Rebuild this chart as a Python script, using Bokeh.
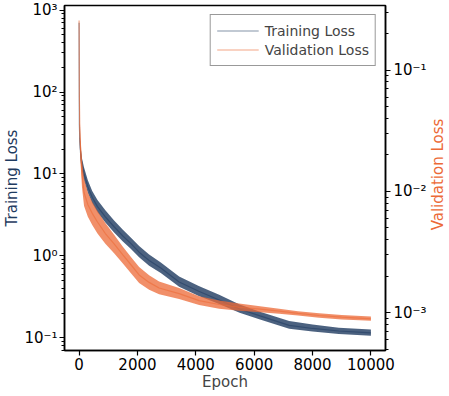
import math
from bokeh.plotting import figure
from bokeh.models import (Range1d, LogScale, LogAxis, FixedTicker, CustomJSTickFormatter,
                          Legend, LegendItem, ColumnDataSource, Label)
from bokeh.embed import file_html
from bokeh.resources import INLINE

# ---------------- data ----------------
epochs_train = [0, 10, 25, 50, 100, 170, 300, 450, 630, 900, 1200, 1500, 1770, 2057,
                2400, 2800, 3428, 4100, 4800, 5500, 6200, 7200, 8000, 8900, 10000]
train_mid = [700, 40, 25, 18, 13, 10, 7.0, 5.2, 4.0, 3.0, 2.27, 1.75, 1.42, 1.11,
             0.88, 0.71, 0.48, 0.37, 0.29, 0.225, 0.185, 0.142, 0.13, 0.121, 0.115]
train_lo = [690, 38, 21, 14.5, 10.8, 8.4, 5.9, 4.4, 3.4, 2.55, 1.93, 1.50, 1.22, 0.96,
            0.76, 0.62, 0.42, 0.325, 0.258, 0.202, 0.167, 0.129, 0.119, 0.111, 0.106]
train_hi = [710, 42, 29, 22, 15.5, 12, 8.4, 6.2, 4.8, 3.6, 2.70, 2.08, 1.68, 1.32,
            1.04, 0.83, 0.56, 0.43, 0.335, 0.255, 0.208, 0.160, 0.145, 0.133, 0.126]

epochs_val = [0, 10, 25, 50, 100, 170, 300, 450, 630, 900, 1200, 1500, 1770, 2057,
              2400, 2742, 3428, 4114, 4800, 5485, 6200, 6857, 7500, 8228, 9000, 10000]
val_mid = [0.257, 0.06, 0.032, 0.022, 0.014, 0.0098, 0.0078, 0.0066, 0.0056, 0.0045,
           0.0037, 0.0030, 0.0025, 0.00205, 0.00178, 0.00160, 0.00144, 0.00126, 0.00117,
           0.00111, 0.00107, 0.00103, 0.00099, 0.00095, 0.00092, 0.00089]
val_lo = [0.25, 0.055, 0.026, 0.017, 0.0108, 0.0076, 0.0062, 0.0053, 0.0045, 0.0037,
          0.0031, 0.00255, 0.00213, 0.00176, 0.00155, 0.00142, 0.00130, 0.00116, 0.00108,
          0.00104, 0.00101, 0.00098, 0.00095, 0.00091, 0.00088, 0.00086]
val_hi = [0.265, 0.065, 0.040, 0.028, 0.018, 0.0128, 0.0098, 0.0082, 0.0069, 0.0055,
          0.0044, 0.0035, 0.0029, 0.00238, 0.00204, 0.00181, 0.00160, 0.00137, 0.00126,
          0.00119, 0.00113, 0.00108, 0.00103, 0.00099, 0.00096, 0.00093]

x_ticks = [0, 2000, 4000, 6000, 8000, 10000]
left_ticks = [0.1, 1, 10, 100, 1000]
right_ticks = [0.001, 0.01, 0.1]

BLUE = "#1f3b60"
ORANGE = "#ec6a37"
FONT = "DejaVu Sans"

# ---------------- figure ----------------
p = figure(frame_width=321, frame_height=345, output_backend="svg", toolbar_location=None,
           x_range=Range1d(-500, 10500),
           y_range=Range1d(10 ** -1.155, 10 ** 3.057), y_axis_type="log",
           min_border_left=10, min_border_right=60, min_border_top=5, min_border_bottom=10)
p.extra_y_ranges = {"val": Range1d(10 ** -3.311, 10 ** -0.467)}
p.extra_y_scales = {"val": LogScale()}

p.grid.visible = False
p.outline_line_color = "black"
p.outline_line_width = 1.5
p.background_fill_color = "white"
p.border_fill_color = "white"


def minor(ticks):
    out = []
    for t in [ticks[0] / 10] + ticks:
        out += [t * k for k in range(2, 10)]
    return out


sup_code = """
const sup = {"-":"\u207b","0":"\u2070","1":"\u00b9","2":"\u00b2","3":"\u00b3","4":"\u2074",
             "5":"\u2075","6":"\u2076","7":"\u2077","8":"\u2078","9":"\u2079"};
const e = Math.round(Math.log10(tick));
return "10" + String(e).split("").map(c => sup[c]).join("");
"""


def style_axis(ax):
    ax.axis_line_color = "black"
    ax.axis_line_width = 1.5
    ax.major_tick_line_color = "black"
    ax.major_tick_line_width = 1.2
    ax.minor_tick_line_color = "black"
    ax.minor_tick_line_width = 1
    ax.major_tick_in = 0
    ax.major_tick_out = 5
    ax.minor_tick_in = 0
    ax.minor_tick_out = 3
    ax.major_label_text_font = FONT
    ax.major_label_text_font_size = "15px"
    ax.major_label_text_color = "black"
    ax.axis_label_text_font = FONT
    ax.axis_label_text_font_size = "15px"
    ax.axis_label_text_font_style = "normal"
    ax.major_label_standoff = 2


# x axis
xa = p.xaxis[0]
style_axis(xa)
xa.ticker = FixedTicker(ticks=x_ticks)
xa.minor_tick_line_color = None
xa.axis_label = "Epoch"
xa.axis_label_standoff = 0
xa.major_label_standoff = 2

# left axis
ya = p.yaxis[0]
style_axis(ya)
ya.ticker = FixedTicker(ticks=left_ticks, minor_ticks=minor(left_ticks))
ya.formatter = CustomJSTickFormatter(code=sup_code)
ya.axis_label = "Training Loss"
ya.axis_label_text_color = BLUE
ya.axis_label_standoff = 0

# right axis (its title is drawn as a label reading bottom-to-top)
ra = LogAxis(y_range_name="val")
style_axis(ra)
ra.ticker = FixedTicker(ticks=right_ticks, minor_ticks=minor(right_ticks))
ra.formatter = CustomJSTickFormatter(code=sup_code)
ra.major_label_standoff = 3
p.add_layout(ra, "right")

right_title = Label(x=8, y=176, x_units="screen", y_units="screen",
                    text="Validation Loss", angle=math.pi / 2,
                    text_align="center", text_baseline="middle",
                    text_font=FONT, text_font_size="15px", text_color=ORANGE)
p.add_layout(right_title, "right")

# ---------------- glyphs ----------------
src_t = ColumnDataSource(dict(x=epochs_train, mid=train_mid, lo=train_lo, hi=train_hi))
src_v = ColumnDataSource(dict(x=epochs_val, mid=val_mid, lo=val_lo, hi=val_hi))

p.varea(x="x", y1="lo", y2="hi", source=src_t, fill_color=BLUE, fill_alpha=0.8)
r_t = p.line(x="x", y="mid", source=src_t, line_color=BLUE, line_alpha=0.55, line_width=1.2)

p.varea(x="x", y1="lo", y2="hi", source=src_v, fill_color=ORANGE, fill_alpha=0.75,
        y_range_name="val")
r_v = p.line(x="x", y="mid", source=src_v, line_color=ORANGE, line_alpha=0.6, line_width=1.2,
             y_range_name="val")

legend = Legend(items=[LegendItem(label="Training Loss", renderers=[r_t]),
                       LegendItem(label="Validation Loss", renderers=[r_v])],
                location="top_right")
legend.label_text_font = FONT
legend.label_text_font_size = "14px"
legend.glyph_width = 42
legend.glyph_height = 19
legend.label_height = 19
legend.spacing = 0
legend.padding = 6
legend.margin = 9
legend.label_standoff = 6
legend.border_line_color = "#333333"
legend.border_line_width = 1
legend.background_fill_alpha = 1
p.add_layout(legend, "center")

open("out.html", "w").write(file_html(p, INLINE))
